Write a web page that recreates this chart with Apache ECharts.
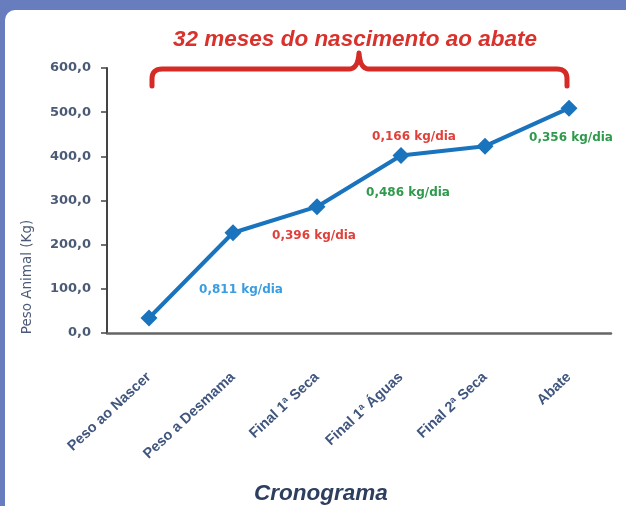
<!DOCTYPE html>
<html>
<head>
<meta charset="utf-8">
<script src="https://cdn.jsdelivr.net/npm/echarts@6/dist/echarts.min.js"></script>
<style>
  html, body { margin: 0; padding: 0; }
  body { width: 626px; height: 506px; background: #687dbd; position: relative; overflow: hidden; }
  #panel { position: absolute; left: 5px; top: 10px; width: 621px; height: 496px; background: #ffffff; border-radius: 10px 0 0 0; }
  #main { position: absolute; left: 0; top: 0; width: 626px; height: 506px; }
</style>
</head>
<body>
<div id="panel"></div>
<div id="main"></div>
<script>
// categorias do cronograma
const categories = ['Peso ao Nascer', 'Peso a Desmama', 'Final 1ª Seca', 'Final 1ª Águas', 'Final 2ª Seca', 'Abate'];
// peso animal (kg)
const weights = [34, 227, 286, 402, 423, 509];
// ganhos diários entre as fases
const rateLabels = ['0,811 kg/dia', '0,396 kg/dia', '0,166 kg/dia', '0,486 kg/dia', '0,356 kg/dia'];
const rateCategory = ['Peso a Desmama', 'Final 1ª Seca', 'Final 1ª Águas', 'Final 1ª Águas', 'Abate'];
const rateValue = [98, 220, 443, 318, 441];
const rateColors = ['#3a9de0', '#e0403a', '#e0403a', '#2f9a4c', '#2f9a4c'];
const rateShift = [8, -3, 13, 7, 2];

const myChart = echarts.init(document.getElementById('main'));

// chave vermelha (decoração) feita de segmentos
function quad(p0, p1, p2, n) {
  const pts = [];
  for (let i = 0; i <= n; i++) {
    const t = i / n;
    pts.push([
      (1 - t) * (1 - t) * p0[0] + 2 * (1 - t) * t * p1[0] + t * t * p2[0],
      (1 - t) * (1 - t) * p0[1] + 2 * (1 - t) * t * p1[1] + t * t * p2[1]
    ]);
  }
  return pts;
}
const bracePts = [].concat(
  [[152, 86]],
  quad([152, 79], [152, 69], [162, 69], 8),
  quad([349, 69], [358, 69], [359, 53], 8),
  quad([359, 53], [360, 69], [369, 69], 8),
  quad([557, 69], [567, 69], [567, 79], 8),
  [[567, 86]]
);

const option = {
  animation: false,
  grid: { left: 107, right: 15, top: 68, bottom: 173 },
  xAxis: {
    type: 'category',
    data: categories,
    axisLine: { lineStyle: { color: '#666666', width: 2.5 } },
    axisTick: { show: false },
    axisLabel: {
      interval: 0,
      rotate: 43,
      margin: 42,
      color: '#40567e',
      fontFamily: 'Liberation Sans',
      fontWeight: 'bold',
      fontSize: 14.5
    }
  },
  yAxis: {
    type: 'value',
    min: 0,
    max: 600,
    interval: 100,
    splitLine: { show: false },
    axisLine: { show: true, lineStyle: { color: '#444444', width: 2 } },
    axisTick: { show: true, length: 6, lineStyle: { color: '#444444', width: 1.5 } },
    axisLabel: {
      margin: 16,
      color: '#4b5a75',
      fontFamily: 'DejaVu Sans',
      fontWeight: 'bold',
      fontSize: 13,
      formatter: function (v) { return v.toFixed(1).replace('.', ','); }
    }
  },
  series: [
    {
      name: 'Peso Animal',
      type: 'line',
      data: weights,
      symbol: 'diamond',
      symbolSize: 17,
      lineStyle: { color: '#1a73bd', width: 4 },
      itemStyle: { color: '#1a73bd' },
      markPoint: {
        symbol: 'circle',
        symbolSize: 1,
        itemStyle: { color: 'rgba(0,0,0,0)' },
        data: rateLabels.map(function (txt, i) {
          return {
            coord: [rateCategory[i], rateValue[i]],
            label: {
              show: true,
              position: 'inside',
              formatter: txt,
              offset: [rateShift[i], 0],
              color: rateColors[i],
              fontFamily: 'DejaVu Sans',
              fontWeight: 'bold',
              fontSize: 12
            }
          };
        })
      }
    }
  ],
  graphic: [
    {
      type: 'text',
      x: 355, y: 40,
      style: {
        text: '32 meses do nascimento ao abate',
        fill: '#d9312b',
        font: 'italic bold 22.5px "Liberation Sans"',
        align: 'center', verticalAlign: 'middle',
        textAlign: 'center', textVerticalAlign: 'middle'
      }
    },
    {
      type: 'polyline',
      shape: { points: bracePts },
      style: { fill: null, stroke: '#d42b27', lineWidth: 5, lineCap: 'round', lineJoin: 'round' }
    },
    {
      type: 'text',
      x: 27, y: 277,
      rotation: Math.PI / 2,
      style: {
        text: 'Peso Animal (Kg)',
        fill: '#4b5a78',
        font: '13.5px "DejaVu Sans"',
        align: 'center', verticalAlign: 'middle',
        textAlign: 'center', textVerticalAlign: 'middle'
      }
    },
    {
      type: 'text',
      x: 321, y: 494,
      style: {
        text: 'Cronograma',
        fill: '#2d3e5e',
        font: 'italic bold 22.5px "Liberation Sans"',
        align: 'center', verticalAlign: 'middle',
        textAlign: 'center', textVerticalAlign: 'middle'
      }
    }
  ]
};

myChart.setOption(option);
</script>
</body>
</html>
